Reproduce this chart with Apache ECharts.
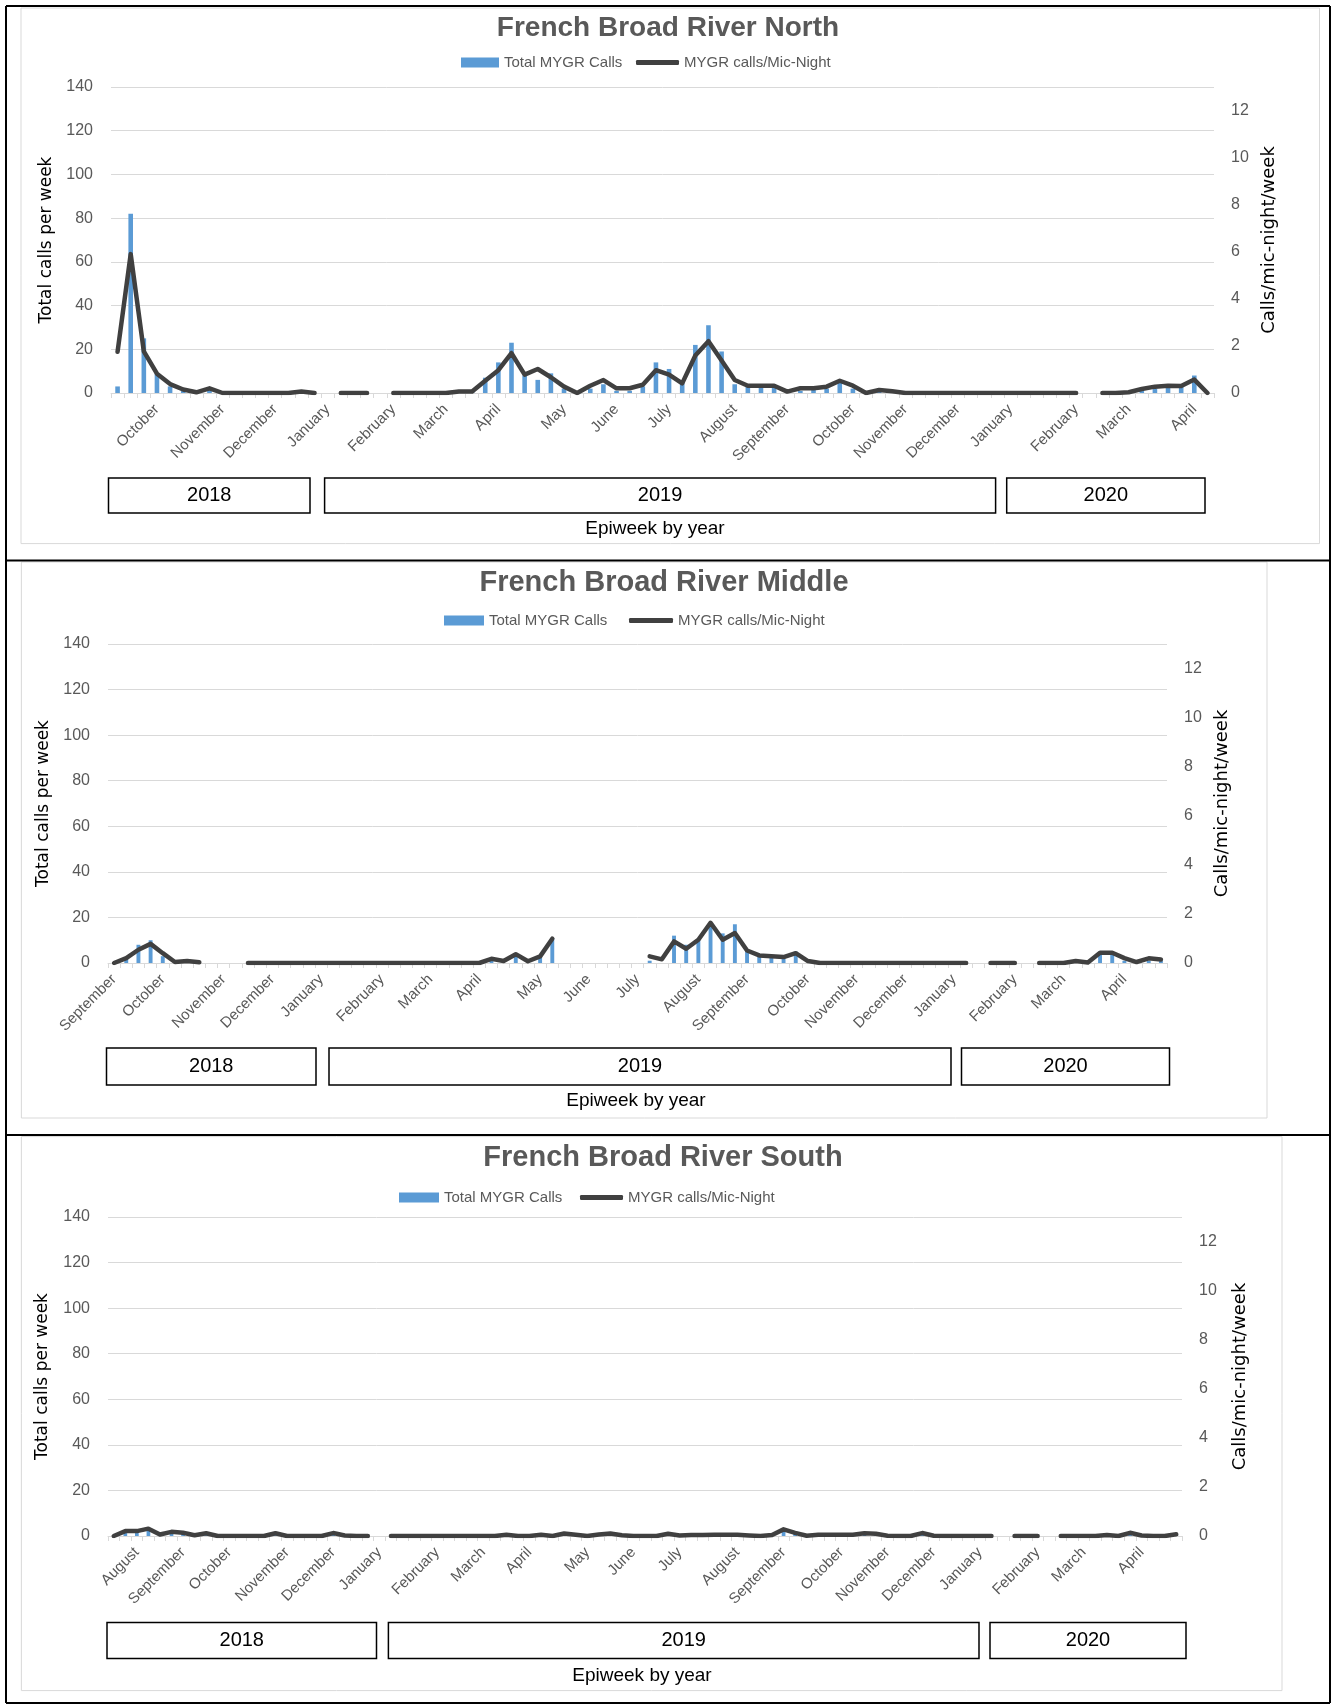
<!DOCTYPE html>
<html><head><meta charset="utf-8">
<script src="https://cdn.jsdelivr.net/npm/echarts/dist/echarts.min.js"></script>
<style>html,body{margin:0;padding:0;background:#fff}#c{width:1337px;height:1706px}</style>
</head><body><div id="c"></div>
<script>
// ---------- DATA ----------
const seriesNames = ['Total MYGR Calls', 'MYGR calls/Mic-Night'];
const yearNames = ['2018', '2019', '2020'];
const leftAxisName = 'Total calls per week';
const rightAxisName = 'Calls/mic-night/week';
const xAxisTitle = 'Epiweek by year';

// North (84 weeks)
const northCalls = [3,82,25,9,3,1,0,2,0,0, 0,0,0,0,1,0,null,0,0,0, null,0,0,0,0,0,1,1,7,14,
  23,8,6,9,2,0,2,4,1,1, 3,14,11,5,22,31,19,4,3,3, 3,0,1,2,2,6,2,0,1,0,
  0,0,0,0,0,0,0,0,0,0, 0,0,0,0,null,0,0,0,1,2, 3,3,8,0];
const northRate = [1.75,5.9,1.77,0.82,0.38,0.15,0.03,0.2,0,0, 0,0,0,0,0.06,0,null,0,0,0,
  null,0,0,0,0,0,0.06,0.06,0.52,0.97, 1.69,0.78,1.02,0.67,0.27,0,0.31,0.55,0.2,0.2,
  0.35,0.97,0.78,0.41,1.59,2.2,1.38,0.55,0.31,0.31, 0.31,0.06,0.2,0.2,0.27,0.52,0.31,0,0.13,0.07,
  0,0,0,0,0,0,0,0,0,0, 0,0,0,0,null,0,0,0.03,0.17,0.27, 0.31,0.3,0.57,0];
const northLabelWeeks = [3,8,12,16,21,25,29,34,38,42,47,51,56,60,64,68,73,77,82];
const northLabelNames = ['October','November','December','January','February','March','April','May','June','July','August','September','October','November','December','January','February','March','April'];

// Middle (87 weeks)
const middleCalls = [0,2,8,10,3,0,1,0,null,null, null,0,0,0,0,0,0,0,0,0,
  0,0,0,0,0,0,0,0,0,0, 0,1,0,4,0,3,11,null,null,null, null,null,null,null,1,0,12,8,10,17,
  13,17,6,3,3,2,5,0,0,0, 0,0,0,0,0,0,0,0,0,0, 0,null,0,0,0,null,0,0,0,0, 0,4,4,1,0,1,1];
const middleRate = [0,0.2,0.54,0.78,0.4,0.04,0.08,0.03,null,null, null,0,0,0,0,0,0,0,0,0,
  0,0,0,0,0,0,0,0,0,0, 0,0.17,0.08,0.36,0.07,0.27,0.99,null,null,null, null,null,null,null,0.27,0.15,0.88,0.58,0.95,1.64,
  0.95,1.22,0.51,0.31,0.28,0.24,0.4,0.08,0,0, 0,0,0,0,0,0,0,0,0,0, 0,null,0,0,0,null,0,0,0,0.08, 0.02,0.42,0.42,0.2,0.04,0.19,0.14];
const middleLabelWeeks = [0,4,9,13,17,22,26,30,35,39,43,48,52,57,61,65,69,74,78,83];
const middleLabelNames = ['September','October','November','December','January','February','March','April','May','June','July','August','September','October','November','December','January','February','March','April'];

// South (93 weeks)
const southCalls = [0,2,2,3,1,2,1,0,1,0, 0,0,0,0,1,0,0,0,0,1, 0,0,0,null,0,0,0,0,0,0,
  0,0,0,0,0,0,0,0,0,1, 0,0,0,1,0,0,0,0,1,0, 0,0,0,0,0,0,0,0,3,1,
  0,0,0,0,0,1,1,0,0,0, 1,0,0,0,0,0,0,null,0,0, 0,null,0,0,0,0,0,0,1,0, 0,0,1];
const southRate = [0,0.2,0.2,0.3,0.06,0.17,0.13,0.03,0.11,0, 0,0,0,0,0.11,0,0,0,0,0.12,
  0.02,0,0,null,0,0,0,0,0,0, 0,0,0,0,0.05,0,0,0.05,0,0.1, 0.05,0,0.06,0.1,0.03,0,0,0,0.09,0.02,
  0.04,0.04,0.05,0.05,0.05,0.02,0,0.04,0.27,0.13, 0.01,0.05,0.05,0.05,0.05,0.11,0.09,0.01,0,0,
  0.12,0.01,0,0,0,0,0,null,0,0, 0,null,0,0,0,0,0.04,0,0.13,0.02, 0,0,0.07];
const southLabelWeeks = [2,6,10,15,19,23,28,32,36,41,45,49,54,58,63,67,71,75,80,84,89];
const southLabelNames = ['August','September','October','November','December','January','February','March','April','May','June','July','August','September','October','November','December','January','February','March','April'];

// ---------- LAYOUT ----------
const FONT = "'Liberation Sans', Arial, sans-serif";
const NAMEFONT = "'DejaVu Sans', sans-serif";
const BLUE = '#5b9bd5', DARK = '#404040', GRID = '#d9d9d9', LBL = '#595959';

const panels = [
  { title:'French Broad River North', calls:northCalls, rate:northRate, weeks:northLabelWeeks, names:northLabelNames,
    grid:{left:111, top:87, width:1103, height:306}, titleXY:[668,28], titleSize:28,
    legA:{left:461, top:55, w:38}, legB:{left:636, top:55, w:43}, leftGap:55, rightGap:46,
    years:[[108.5,478,201.5,35],[324.6,478,671,35],[1006.7,478,198.3,35]], epi:[655,529],
    border:[21,8,1298.5,535.6], barW:'35%' },
  { title:'French Broad River Middle', calls:middleCalls, rate:middleRate, weeks:middleLabelWeeks, names:middleLabelNames,
    grid:{left:108, top:644, width:1059, height:319}, titleXY:[664,583], titleSize:29,
    legA:{left:444, top:613, w:40}, legB:{left:629, top:613, w:44}, leftGap:56, rightGap:46,
    years:[[106.5,1048,209.5,37],[329,1048,622,37],[961.5,1048,208,37]], epi:[636,1101],
    border:[21.4,562,1245.6,556], barW:'32%' },
  { title:'French Broad River South', calls:southCalls, rate:southRate, weeks:southLabelWeeks, names:southLabelNames,
    grid:{left:108, top:1217, width:1074, height:319}, titleXY:[663,1158], titleSize:29,
    legA:{left:399, top:1190, w:40}, legB:{left:580, top:1190, w:43}, leftGap:57, rightGap:49,
    years:[[107,1622.6,269.5,36],[388.4,1622.6,590.6,36],[990,1622.6,196,36]], epi:[642,1676],
    border:[21.4,1136.6,1260.6,554], barW:'32%' }
];

const option = { animation:false, backgroundColor:'#fff', grid:[], xAxis:[], yAxis:[], series:[], legend:[], graphic:{elements:[]} };
const G = option.graphic.elements;

panels.forEach((p, k) => {
  const n = p.calls.length;
  const labels = new Array(n).fill('');
  p.weeks.forEach((w, j) => { labels[w] = p.names[j]; });
  const cats = labels.map((_, i) => 'w' + (i + 1));

  option.grid.push(Object.assign({ containLabel:false, outerBoundsMode:'none' }, p.grid));
  option.xAxis.push({
    type:'category', gridIndex:k, data:cats, boundaryGap:true,
    axisLine:{ show:true, lineStyle:{ color:GRID, width:1 } },
    axisTick:{ show:true, interval:0, length:5, lineStyle:{ color:GRID } },
    axisLabel:{ interval:0, rotate:45, margin:14, fontSize:15, color:LBL, fontFamily:FONT,
      formatter:(v, i) => labels[i] },
    splitLine:{ show:false }
  });
  option.yAxis.push({
    type:'value', gridIndex:k, position:'left', min:0, max:140, interval:20,
    axisLine:{ show:false }, axisTick:{ show:false },
    axisLabel:{ fontSize:16, color:LBL, fontFamily:FONT, margin:18 },
    splitLine:{ show:true, lineStyle:{ color:GRID, width:1 } },
    name:leftAxisName, nameLocation:'middle', nameGap:p.leftGap, nameRotate:90,
    nameTextStyle:{ fontSize:17, color:'#000', fontFamily:NAMEFONT }
  });
  option.yAxis.push({
    type:'value', gridIndex:k, position:'right', min:0, max:13, interval:2,
    axisLine:{ show:false }, axisTick:{ show:false }, splitLine:{ show:false },
    axisLabel:{ fontSize:16, color:LBL, fontFamily:FONT, margin:17, showMaxLabel:false,
      formatter:(v) => (v % 2 === 0 ? String(v) : '') },
    name:rightAxisName, nameLocation:'middle', nameGap:p.rightGap, nameRotate:90,
    nameTextStyle:{ fontSize:18, color:'#000', fontFamily:NAMEFONT }
  });
  option.series.push({
    name:seriesNames[0], type:'bar', xAxisIndex:k, yAxisIndex:2*k, data:p.calls,
    barWidth:p.barW, itemStyle:{ color:BLUE }, z:2
  });
  option.series.push({
    name:seriesNames[1], type:'line', xAxisIndex:k, yAxisIndex:2*k+1, data:p.rate,
    symbol:'none', showSymbol:false, connectNulls:false, z:3,
    itemStyle:{ color:DARK },
    lineStyle:{ color:DARK, width:4.5, cap:'round', join:'round' }
  });
  option.legend.push({
    data:[seriesNames[0]], left:p.legA.left, top:p.legA.top, padding:0, itemGap:0,
    itemWidth:p.legA.w, itemHeight:10, icon:'rect', selectedMode:false,
    textStyle:{ fontSize:15, color:LBL, fontFamily:FONT }
  });
  option.legend.push({
    data:[seriesNames[1]], left:p.legB.left, top:p.legB.top, padding:0, itemGap:0,
    itemWidth:p.legB.w, itemHeight:5, icon:'roundRect', selectedMode:false,
    itemStyle:{ color:DARK },
    textStyle:{ fontSize:15, color:LBL, fontFamily:FONT }
  });

  // chart area border
  G.push({ type:'rect', silent:true, z:0,
    shape:{ x:p.border[0], y:p.border[1], width:p.border[2], height:p.border[3] },
    style:{ fill:null, stroke:GRID, lineWidth:1 } });
  // title
  G.push({ type:'text', silent:true, x:p.titleXY[0], y:p.titleXY[1], z:10,
    style:{ text:p.title, fill:LBL, font:'bold ' + p.titleSize + 'px ' + FONT,
      align:'center', verticalAlign:'middle', textAlign:'center', textVerticalAlign:'middle' } });
  // year boxes
  p.years.forEach((b, j) => {
    G.push({ type:'rect', silent:true, z:10,
      shape:{ x:b[0], y:b[1], width:b[2], height:b[3] },
      style:{ fill:'#fff', stroke:'#000', lineWidth:1.5 } });
    G.push({ type:'text', silent:true, z:11, x:b[0] + b[2] / 2, y:b[1] + b[3] / 2,
      style:{ text:yearNames[j], fill:'#000', font:'20px ' + FONT,
        align:'center', verticalAlign:'middle', textAlign:'center', textVerticalAlign:'middle' } });
  });
  G.push({ type:'text', silent:true, z:11, x:p.epi[0], y:p.epi[1],
    style:{ text:xAxisTitle, fill:'#000', font:'19px ' + FONT,
      align:'center', verticalAlign:'middle', textAlign:'center', textVerticalAlign:'middle' } });
});

// outer table lines
[[6,6,1330,6],[6,560.5,1330,560.5],[6,1135,1330,1135],[6,1703,1330,1703],[6,6,6,1703],[1330,6,1330,1703]].forEach(l => {
  G.push({ type:'line', silent:true, z:20, shape:{ x1:l[0], y1:l[1], x2:l[2], y2:l[3] },
    style:{ stroke:'#000', lineWidth:2 } });
});

const chart = echarts.init(document.getElementById('c'), null, { renderer:'canvas' });
chart.setOption(option);
</script></body></html>
